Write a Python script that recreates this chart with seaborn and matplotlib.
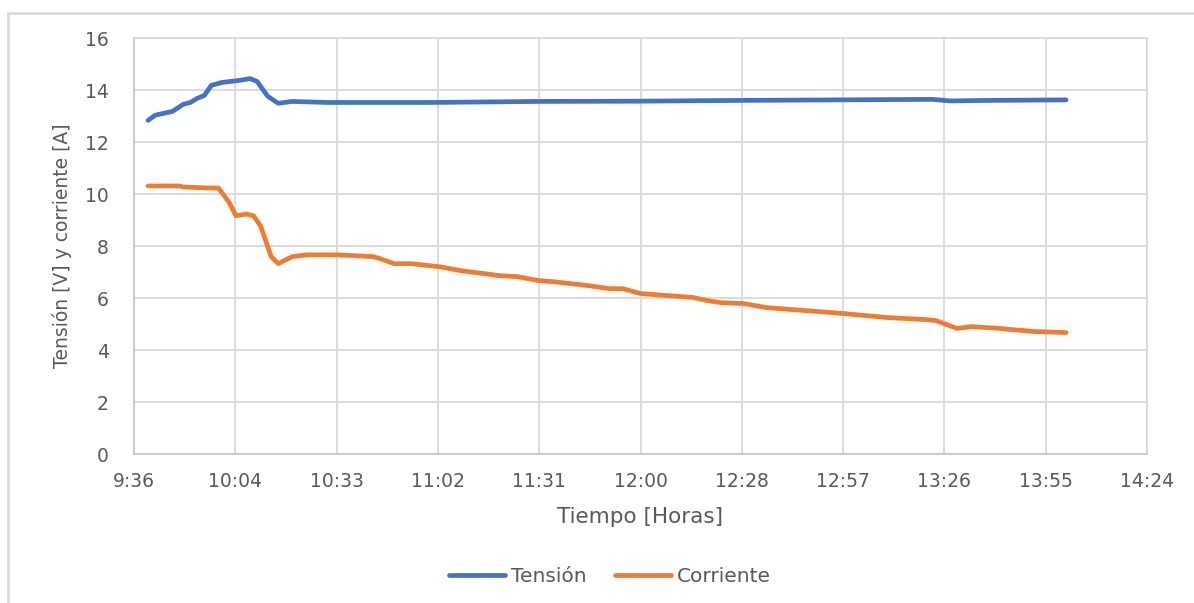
import pandas as pd
import numpy as np
import matplotlib
matplotlib.use("Agg")
import matplotlib.pyplot as plt
import seaborn as sns
from matplotlib.patches import Rectangle

sns.set_theme(style="white")
plt.rcParams['font.family'] = ['DejaVu Sans']

# =====================================
# Data
# =====================================
tension_time = ["9:40", "9:42", "9:47", "9:50", "9:52", "9:54", "9:56", "9:58",
                "10:01", "10:06", "10:09", "10:11", "10:14", "10:17", "10:21",
                "10:31", "11:00", "11:31", "12:00", "12:28", "12:57", "13:23",
                "13:28", "13:39", "14:01"]
tension_v = [12.83, 13.03, 13.18, 13.45, 13.52, 13.68, 13.79, 14.18,
             14.29, 14.37, 14.44, 14.33, 13.76, 13.49, 13.56,
             13.52, 13.52, 13.56, 13.57, 13.60, 13.62, 13.64,
             13.58, 13.60, 13.62]

corriente_time = ["9:40", "9:49", "9:50", "9:57", "10:00", "10:03", "10:05", "10:08",
                  "10:10", "10:12", "10:15", "10:17", "10:18", "10:21", "10:25",
                  "10:34", "10:44", "10:46", "10:50", "10:55", "11:03", "11:09",
                  "11:20", "11:25", "11:31", "11:35", "11:45", "11:51", "11:55",
                  "12:00", "12:04", "12:15", "12:19", "12:23", "12:29", "12:36",
                  "12:58", "13:10", "13:21", "13:24", "13:30", "13:34", "13:42",
                  "13:52", "14:01"]
corriente_a = [10.31, 10.31, 10.27, 10.23, 10.23, 9.69, 9.16, 9.23,
               9.16, 8.77, 7.59, 7.32, 7.39, 7.59, 7.66,
               7.66, 7.59, 7.51, 7.32, 7.32, 7.20, 7.05,
               6.86, 6.82, 6.67, 6.63, 6.48, 6.36, 6.36,
               6.17, 6.13, 6.02, 5.90, 5.82, 5.79, 5.63,
               5.40, 5.25, 5.17, 5.13, 4.83, 4.90, 4.83,
               4.71, 4.67]

x_tick_labels = ["9:36", "10:04", "10:33", "11:02", "11:31", "12:00",
                 "12:28", "12:57", "13:26", "13:55", "14:24"]
y_ticks = [0, 2, 4, 6, 8, 10, 12, 14, 16]


def day_fraction(times):
    return pd.to_timedelta([t + ":00" for t in times]).total_seconds() / 86400.0


df = pd.concat([
    pd.DataFrame({"t": day_fraction(tension_time), "valor": tension_v, "serie": "Tensión"}),
    pd.DataFrame({"t": day_fraction(corriente_time), "valor": corriente_a, "serie": "Corriente"}),
])

# =====================================
# Plot
# =====================================
grid_c = "#D9D9D9"
text_c = "#595959"

fig = plt.figure(figsize=(11.94, 6.03), dpi=100)
ax = fig.add_axes([134 / 1194, 1 - 454 / 603, (1147 - 134) / 1194, (454 - 38) / 603])

sns.lineplot(data=df, x="t", y="valor", hue="serie", ax=ax,
             palette={"Tensión": "#4472C4", "Corriente": "#ED7D31"},
             linewidth=3.4, sort=True, estimator=None)
for ln in ax.lines:
    ln.set_solid_joinstyle("round")
    ln.set_solid_capstyle("round")

x_ticks = np.linspace(0.4, 0.6, len(x_tick_labels))
ax.set_xlim(0.4, 0.6)
ax.set_ylim(0, 16)
ax.set_xticks(x_ticks)
ax.set_xticklabels(x_tick_labels)
ax.set_yticks(y_ticks)
ax.grid(True, color=grid_c, linewidth=1.3)
ax.set_axisbelow(True)
for s in ax.spines.values():
    s.set_color(grid_c)
    s.set_linewidth(1.3)
ax.spines["left"].set_color("#C8C8C8")
ax.spines["bottom"].set_color("#C8C8C8")
ax.tick_params(axis="both", length=0, labelsize=13.5, colors=text_c)
ax.tick_params(axis="y", pad=18)
ax.tick_params(axis="x", pad=13)

ax.set_xlabel("Tiempo [Horas]", fontsize=15.5, color=text_c)
ax.set_ylabel("Tensión [V] y corriente [A]", fontsize=13.5, color=text_c)
ax.xaxis.set_label_coords(0.5, (454 - 517) / 416)
ax.xaxis.label.set_va("center")
ax.yaxis.set_label_coords((62 - 134) / 1013, 0.5)
ax.yaxis.label.set_va("center")

handles, labels = ax.get_legend_handles_labels()
ax.legend(handles, labels, loc="center", bbox_to_anchor=(610 / 1194, 1 - 577 / 603),
          bbox_transform=fig.transFigure, ncol=2, frameon=False, fontsize=14.5,
          handlelength=2.8, handletextpad=0.3, columnspacing=1.4, labelcolor=text_c)

# chart area border (Excel style), partially cropped
fig.patches.append(Rectangle((8 / 1194, -0.1), 1.2, 1 - 13 / 603 + 0.1,
                             transform=fig.transFigure, fill=False,
                             edgecolor=grid_c, linewidth=2, zorder=0))

fig.savefig("out.png", dpi=100)
